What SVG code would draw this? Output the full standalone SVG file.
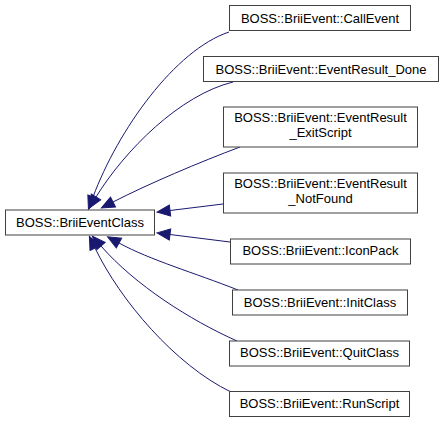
<svg xmlns="http://www.w3.org/2000/svg" width="441" height="423" viewBox="0 0 441 423">
<style>
.node rect{fill:#ffffff;stroke:#404040;stroke-width:1}
.node text{font-family:"Liberation Sans",Arial,sans-serif;font-size:13px;fill:#000000;text-anchor:middle}
.edge path{fill:none;stroke:#191970;stroke-width:1;marker-end:url(#arr)}
</style>
<defs>
<marker id="arr" markerUnits="userSpaceOnUse" markerWidth="14" markerHeight="12" refX="0" refY="5.5" orient="auto" overflow="visible">
<path d="M0,0 L13,5.5 L0,11 z" fill="#191970" stroke="#191970" stroke-width="1"/>
</marker>
</defs>
<rect width="441" height="423" fill="#ffffff"/>
<g id="edges" class="edge">
<path d="M229,32 C175,50 118,130 93,197"/>
<path d="M233,82 C180,95 125,150 96,197"/>
<path d="M240,147 C200,162 148,184 113,202"/>
<path d="M223,204 L170,210.5"/>
<path d="M230,242 L170,234.5"/>
<path d="M238,290 C195,273 150,260 119,243"/>
<path d="M237,341 C190,320 135,285 101,246"/>
<path d="M231,392 C175,365 120,300 95,248"/>
</g>
<g id="base" class="node">
<rect x="5.5" y="210" width="149" height="25"/>
<text x="80" y="226.5">BOSS::BriiEventClass</text>
</g>
<g id="callevent" class="node">
<rect x="229.5" y="5.5" width="181" height="25"/>
<text x="320" y="22.5">BOSS::BriiEvent::CallEvent</text>
</g>
<g id="eventresult_done" class="node">
<rect x="203.5" y="56.5" width="235" height="25"/>
<text x="321" y="73.5">BOSS::BriiEvent::EventResult_Done</text>
</g>
<g id="eventresult_exitscript" class="node">
<rect x="223.5" y="107" width="194" height="40"/>
<text x="320.5" y="122">BOSS::BriiEvent::EventResult</text>
<text x="320.5" y="137">_ExitScript</text>
</g>
<g id="eventresult_notfound" class="node">
<rect x="223.5" y="173" width="194" height="40"/>
<text x="320.5" y="188">BOSS::BriiEvent::EventResult</text>
<text x="320.5" y="203">_NotFound</text>
</g>
<g id="iconpack" class="node">
<rect x="230.5" y="239" width="180" height="25"/>
<text x="320.5" y="255">BOSS::BriiEvent::IconPack</text>
</g>
<g id="initclass" class="node">
<rect x="232.5" y="290" width="175" height="25"/>
<text x="320" y="307">BOSS::BriiEvent::InitClass</text>
</g>
<g id="quitclass" class="node">
<rect x="229.5" y="341" width="180" height="25"/>
<text x="319.5" y="357">BOSS::BriiEvent::QuitClass</text>
</g>
<g id="runscript" class="node">
<rect x="229.5" y="391.5" width="180" height="25"/>
<text x="319.5" y="407.5">BOSS::BriiEvent::RunScript</text>
</g>
</svg>
